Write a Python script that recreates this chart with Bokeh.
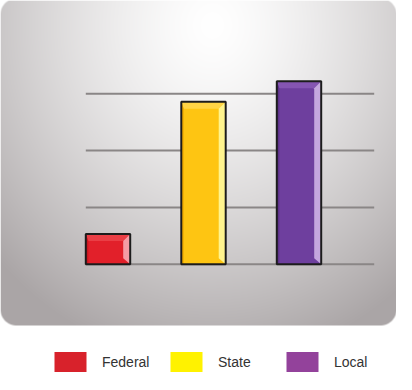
import numpy as np
from bokeh.plotting import figure
from bokeh.models import Range1d, ColumnDataSource, Legend, LegendItem
from bokeh.embed import file_html
from bokeh.resources import INLINE

# ---- data ----
categories = ["Federal", "State", "Local"]
values = [5.3, 28.6, 32.2]
grid_values = [0, 10, 20, 30]

# ---- styles ----
bar_colors = ["#e2202a", "#fec512", "#6e3f9e"]
top_colors = ["#ea3e45", "#ffd445", "#8555b2"]
side_colors = ["#f59ca5", "#fff48e", "#c4a6de"]
left_colors = ["#c9161f", "#f2ad00", "#5d3289"]
legend_colors = ["#d8222b", "#fff200", "#93429b"]

W, H = 396, 374
px_per_cat = 95.5
first_center = 107.5
baseline_px = 263.7
px_per_unit = 5.68
bw = 0.465

x_range = Range1d(-first_center / px_per_cat, (W - first_center) / px_per_cat)
y_range = Range1d(-(H - baseline_px) / px_per_unit, baseline_px / px_per_unit)

p = figure(width=W, height=H, x_range=x_range, y_range=y_range,
           toolbar_location=None, output_backend="svg", min_border=0,
           x_axis_type=None, y_axis_type=None, outline_line_color=None,
           background_fill_color="white", border_fill_color="white")
p.extra_x_ranges = {"px": Range1d(0, W)}
p.extra_y_ranges = {"px": Range1d(0, H)}

# ---- background panel (radial gradient, rounded corners) ----
ys, xs = np.mgrid[0:H, 0:W].astype(float)
xc = xs + 0.5
yt = H - (ys + 0.5)  # top-down coordinate
px0, px1, py0, py1, rad = 0.0, W, -2.0, 325.0, 16.0
ccx, ccy = (px0 + px1) / 2, (py0 + py1) / 2
hw, hh = (px1 - px0) / 2, (py1 - py0) / 2
qx = np.abs(xc - ccx) - (hw - rad)
qy = np.abs(yt - ccy) - (hh - rad)
d = np.sqrt(np.maximum(qx, 0) ** 2 + np.maximum(qy, 0) ** 2) + np.minimum(np.maximum(qx, qy), 0) - rad
alpha = np.clip(0.5 - d, 0, 1)
t = np.sqrt(((xc - 212) / 300.0) ** 2 + ((yt - 25) / 340.0) ** 2)
t = np.clip(t, 0, 1) ** 1.4
edge = np.array([170, 165, 166], dtype=float)
img = np.zeros((H, W), dtype=np.uint32)
view = img.view(dtype=np.uint8).reshape((H, W, 4))
for k in range(3):
    col = 255 * (1 - t) + edge[k] * t
    view[:, :, k] = np.clip(col * alpha + 255 * (1 - alpha), 0, 255).astype(np.uint8)
view[:, :, 3] = 255
p.image_rgba(image=[img], x=0, y=0, dw=W, dh=H, x_range_name="px", y_range_name="px")

# ---- grid lines ----
gx0 = -bw / 2
gx1 = (373.7 - first_center) / px_per_cat
p.segment(x0=[gx0] * len(grid_values), x1=[gx1] * len(grid_values),
          y0=grid_values, y1=grid_values, line_color="#8a8686", line_width=2)

# ---- bars ----
idx = list(range(len(categories)))
src = ColumnDataSource(dict(x=idx, top=values, cat=categories, color=bar_colors,
                            legend_color=legend_colors))
p.vbar(x="x", top="top", width=bw, bottom=0, source=src, fill_color="color", line_color=None)

dxs = 7 / px_per_cat
dxl = 2.5 / px_per_cat
dyt = 7 / px_per_unit
dyb = 6 / px_per_unit
top_xs, top_ys, side_xs, side_ys, left_xs, left_ys = [], [], [], [], [], []
for i, v in zip(idx, values):
    L, R = i - bw / 2, i + bw / 2
    top_xs.append([L, R, R - dxs, L + dxl])
    top_ys.append([v, v, v - dyt, v - dyt])
    side_xs.append([R, R, R - dxs, R - dxs])
    side_ys.append([v, 0, dyb, v - dyt])
    left_xs.append([L, L + dxl, L + dxl, L])
    left_ys.append([v, v - dyt, 0, 0])
p.patches(top_xs, top_ys, fill_color=top_colors, line_color=None)
p.patches(side_xs, side_ys, fill_color=side_colors, line_color=None)
p.patches(left_xs, left_ys, fill_color=left_colors, line_color=None)
p.vbar(x="x", top="top", width=bw, bottom=0, source=src, fill_alpha=0,
       line_color="#1c1c1c", line_width=2)

# ---- legend ----
leg_r = p.vbar(x="x", top="top", width=bw, source=src, fill_color="legend_color",
               line_color=None, visible=False)
items = [LegendItem(label=c, renderers=[leg_r], index=i) for i, c in enumerate(categories)]
legend = Legend(items=items, location=(50, 0), orientation="horizontal",
                glyph_width=40, glyph_height=25, label_standoff=12, label_width=52,
                spacing=12, padding=0, margin=0, border_line_alpha=0,
                background_fill_alpha=0, label_text_font="Liberation Sans",
                label_text_font_size="14px", label_text_color="#333333",
                label_height=20)
p.add_layout(legend)

open("out.html", "w").write(file_html(p, INLINE))
